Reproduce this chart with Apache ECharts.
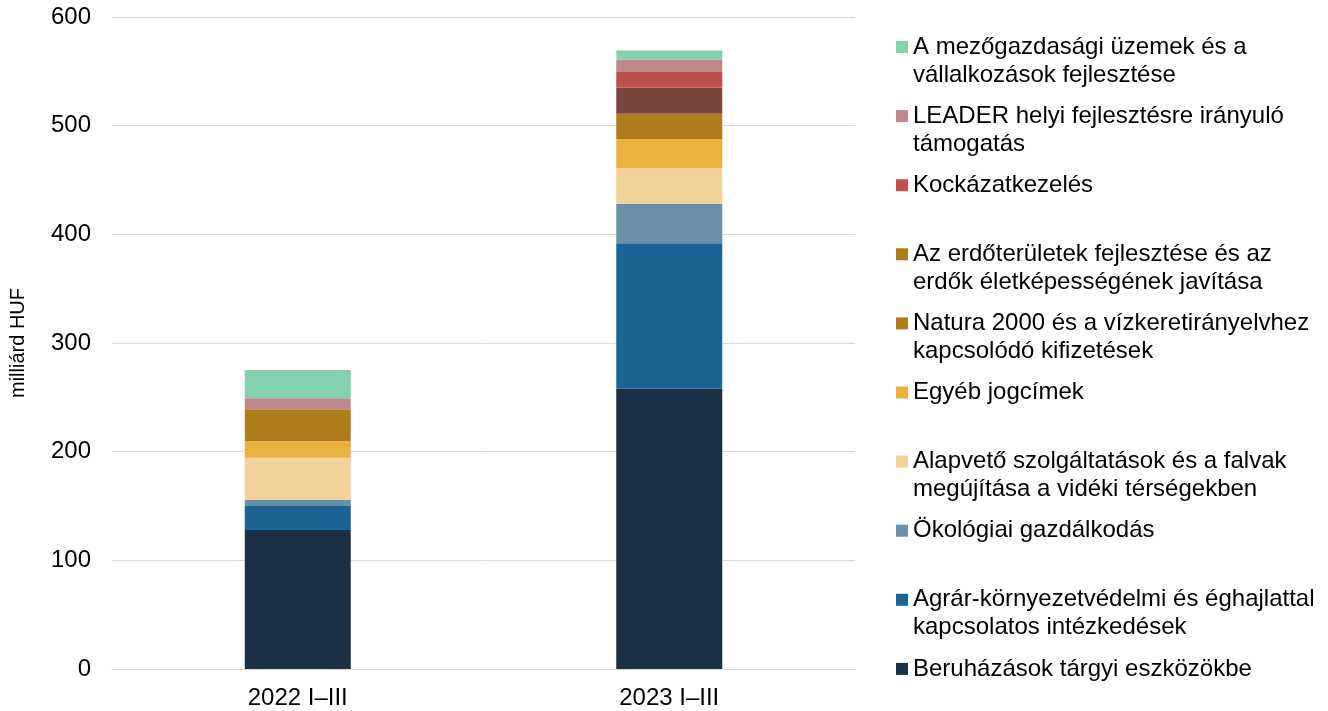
<!DOCTYPE html>
<html>
<head>
<meta charset="utf-8">
<script src="https://cdn.jsdelivr.net/npm/echarts@6/dist/echarts.min.js"></script>
<style>
  html, body { margin: 0; padding: 0; background: #fff; }
  #chart { width: 1328px; height: 711px; }
</style>
</head>
<body>
<div id="chart"></div>
<script>
// categories
const periods = ['2022 I–III', '2023 I–III']

// series names, stacking order from bottom to top
const seriesNames = [
  'Beruházások tárgyi eszközökbe',
  'Agrár-környezetvédelmi és éghajlattal\nkapcsolatos intézkedések',
  'Ökológiai gazdálkodás',
  'Alapvető szolgáltatások és a falvak\nmegújítása a vidéki térségekben',
  'Egyéb jogcímek',
  'Natura 2000 és a vízkeretirányelvhez\nkapcsolódó kifizetések',
  'Az erdőterületek fejlesztése és az\nerdők életképességének javítása',
  'Kockázatkezelés',
  'LEADER helyi fejlesztésre irányuló\ntámogatás',
  'A mezőgazdasági üzemek és a\nvállalkozások fejlesztése'
]

// values (milliárd HUF), [2022, 2023]
const beruhazasok = [128, 258]
const agrar = [22, 133.7]
const okologiai = [5.5, 36.5]
const alapveto = [39, 32.5]
const egyeb = [15, 27]
const natura = [8.6, 23.3]
const erdo = [21, 24]
const kockazat = [0, 14.5]
const leader = [10, 11.4]
const mezogazdasagi = [26, 8.2]

const yTicks = [0, 100, 200, 300, 400, 500, 600]

const seriesValues = [beruhazasok, agrar, okologiai, alapveto, egyeb, natura, erdo, kockazat, leader, mezogazdasagi]

const colors = ['#1b3045', '#1d6496', '#6a90aa', '#f1d29a', '#ebb13f', '#ad7c1b', '#ad7c1b', '#bf4f4d', '#bc8a8a', '#84d2ad']
// the 2023 forest segment is drawn in a darker brown in the original
const erdoColor2023 = '#7a473e'

const font = 'Liberation Sans, Arial, sans-serif'

const chart = echarts.init(document.getElementById('chart'))

const series = seriesNames.map((name, i) => ({
  name: name,
  type: 'bar',
  stack: 'total',
  barWidth: 106,
  itemStyle: { color: colors[i] },
  emphasis: { disabled: true },
  data: seriesValues[i].map((v, j) => (i === 6 && j === 1)
    ? { value: v, itemStyle: { color: erdoColor2023 } }
    : v)
}))

// legend entries: top of list is the last series, evenly spaced,
// marker aligned with the first text line
const legendStart = 47
const legendStep = 69.1
const legends = seriesNames.slice().reverse().map((name, k) => {
  const center = legendStart + k * legendStep
  const twoLines = name.indexOf('\n') >= 0
  return {
    orient: 'vertical',
    left: 896,
    top: twoLines ? center - 42 : center - 14,
    padding: 0,
    itemWidth: 12,
    itemHeight: 12,
    icon: 'rect',
    selectedMode: false,
    data: [name],
    // blank first line keeps the marker level with the first text line
    formatter: n => twoLines ? ' \n' + n : n,
    textStyle: {
      fontFamily: font,
      fontSize: 24,
      color: '#000',
      lineHeight: 28
    }
  }
})

const option = {
  animation: false,
  textStyle: { fontFamily: font },
  grid: { left: 110, right: 473, top: 17, bottom: 42 },
  legend: legends,
  xAxis: {
    type: 'category',
    data: periods,
    axisTick: { show: false },
    axisLine: { lineStyle: { color: '#d9d9d9' } },
    axisLabel: { fontSize: 24, color: '#000', margin: 17 }
  },
  yAxis: {
    type: 'value',
    min: yTicks[0],
    max: yTicks[yTicks.length - 1],
    interval: 100,
    name: 'milliárd HUF',
    nameLocation: 'middle',
    nameGap: 84,
    nameTextStyle: { fontSize: 20, color: '#000' },
    axisLabel: { fontSize: 24, color: '#000', margin: 21 },
    splitLine: { lineStyle: { color: '#d9d9d9' } }
  },
  series: series
}

chart.setOption(option)
</script>
</body>
</html>
